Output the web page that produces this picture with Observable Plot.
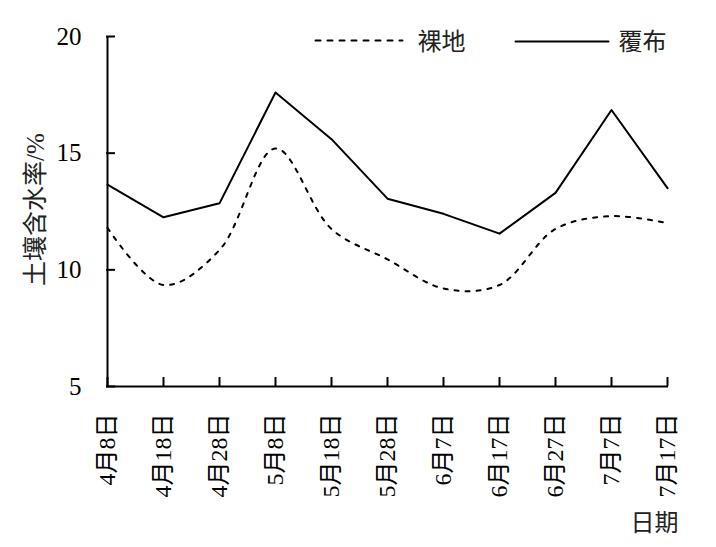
<!DOCTYPE html>
<html>
<head>
<meta charset="utf-8">
<script src="https://cdn.jsdelivr.net/npm/d3@7"></script>
<script src="https://cdn.jsdelivr.net/npm/@observablehq/plot@0.6"></script>
<style>
  html, body { margin: 0; padding: 0; background: #fff; }
</style>
</head>
<body>
<div id="chart"></div>
<script>
const dates = ["4月8日","4月18日","4月28日","5月8日","5月18日","5月28日","6月7日","6月17日","6月27日","7月7日","7月17日"];
const bare  = [11.8, 9.35, 10.85, 15.2, 11.75, 10.45, 9.2, 9.35, 11.75, 12.3, 12.0];
const cover = [13.65, 12.25, 12.85, 17.6, 15.6, 13.05, 12.4, 11.55, 13.3, 16.85, 13.5];
const yTicks = [5, 10, 15, 20];
const seriesNames = ["裸地", "覆布"];
const yTitle = "土壤含水率/%";
const xTitle = "日期";

const W = 716, H = 547;
const mL = 106, mR = 48, mT = 36, mB = 161;
const frameW = W - mL - mR, frameH = H - mT - mB;

const bareData = dates.map((d, i) => ({date: d, value: bare[i]}));
const coverData = dates.map((d, i) => ({date: d, value: cover[i]}));

const serif = "'Liberation Serif', 'Noto Sans CJK SC', serif";
const lineShape = {draw(context, l) { context.moveTo(0, 0); context.lineTo(0, -l); }};

const chart = Plot.plot({
  width: W,
  height: H,
  marginLeft: mL,
  marginRight: mR,
  marginTop: mT,
  marginBottom: mB,
  style: {fontFamily: serif, fontSize: "25px", color: "#000", background: "#fff"},
  x: {type: "point", domain: dates, padding: 0, axis: null},
  y: {domain: [5, 20], axis: null},
  marks: [
    // axis lines
    Plot.ruleX([dates[0]], {x: d => d, stroke: "#000", strokeWidth: 2}),
    Plot.ruleY([5], {stroke: "#000", strokeWidth: 2}),
    // inward ticks
    Plot.tickY(yTicks, {y: d => d, insetRight: frameW - 9, stroke: "#000", strokeWidth: 2}),
    Plot.tickX(dates, {x: d => d, insetTop: frameH - 9, stroke: "#000", strokeWidth: 2}),
    // y tick labels
    Plot.text(yTicks, {y: d => d, text: d => String(d), frameAnchor: "left", dx: -25, textAnchor: "end", fontSize: 25, fontFamily: serif, fill: "#000"}),
    // x tick labels (rotated)
    Plot.text(dates, {x: d => d, text: d => d, frameAnchor: "bottom", dy: 27, rotate: -90, textAnchor: "end", lineAnchor: "middle", fontSize: 24, fontFamily: serif, fill: "#000"}),
    // axis titles
    Plot.text([yTitle], {text: d => d, frameAnchor: "left", dx: -71, dy: -2, rotate: -90, textAnchor: "middle", lineAnchor: "middle", fontSize: 25, fontFamily: serif, fill: "#222"}),
    Plot.text([xTitle], {text: d => d, frameAnchor: "bottom-right", dx: -14, dy: 137, textAnchor: "middle", lineAnchor: "middle", fontSize: 24, fontFamily: serif, fill: "#222"}),
    // data lines
    Plot.line(bareData, {x: "date", y: "value", stroke: "#000", strokeWidth: 2, strokeDasharray: "4,7", curve: "catmull-rom"}),
    Plot.line(coverData, {x: "date", y: "value", stroke: "#000", strokeWidth: 2}),
    // legend
    Plot.vector([0], {frameAnchor: "top-left", dx: 315 - mL, dy: 40 - mT, length: 87, rotate: 90, anchor: "start", shape: lineShape, stroke: "#000", strokeWidth: 2, strokeDasharray: "5,7"}),
    Plot.text([seriesNames[0]], {text: d => d, frameAnchor: "top-left", dx: 441 - mL, dy: 42 - mT, textAnchor: "middle", lineAnchor: "middle", fontSize: 24, fontFamily: serif, fill: "#222"}),
    Plot.vector([0], {frameAnchor: "top-left", dx: 515 - mL, dy: 41 - mT, length: 93, rotate: 90, anchor: "start", shape: lineShape, stroke: "#000", strokeWidth: 2}),
    Plot.text([seriesNames[1]], {text: d => d, frameAnchor: "top-left", dx: 642 - mL, dy: 42 - mT, textAnchor: "middle", lineAnchor: "middle", fontSize: 24, fontFamily: serif, fill: "#222"})
  ]
});
document.getElementById("chart").appendChild(chart);
</script>
</body>
</html>
